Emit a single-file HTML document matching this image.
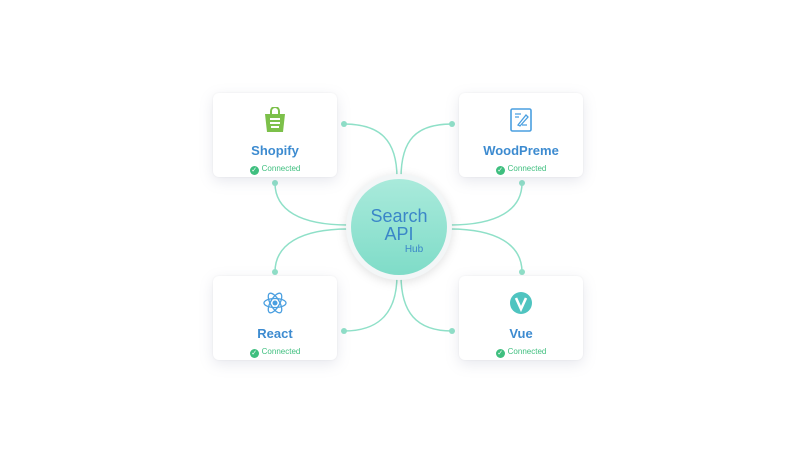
<!DOCTYPE html>
<html><head><meta charset="utf-8"><style>
html,body{margin:0;padding:0;background:#fff;}
body{width:800px;height:457px;position:relative;overflow:hidden;font-family:"Liberation Sans",sans-serif;}
.card{position:absolute;width:124px;height:84px;background:#fff;border-radius:6px;box-shadow:0 4px 14px rgba(120,130,160,0.18),0 0 2px rgba(0,0,0,0.06);}
.card .t{position:absolute;left:0;right:0;top:50px;text-align:center;color:#3d8bd0;font-size:13px;font-weight:bold;}
.card .c{position:absolute;left:0;right:0;top:71px;text-align:center;color:#3fbf7f;font-size:8px;}
.card .c span{display:inline-block;width:9px;height:9px;border-radius:50%;background:#3fbf7f;color:#fff;font-size:7px;line-height:9px;vertical-align:-1px;margin-right:3px;}
.ic{position:absolute;left:50px;top:14px;width:24px;height:26px;}
</style></head><body>
<svg width="800" height="457" style="position:absolute;left:0;top:0">
<g fill="none" stroke="#8fe0c8" stroke-width="1.5">
<path d="M344,124 C380,124 397,140 397,178"/>
<path d="M452,124 C416,124 401,140 401,178"/>
<path d="M275,183 C275,210 300,225 348,225"/>
<path d="M522,183 C522,210 497,225 450,225"/>
<path d="M348,229 C300,229 275,245 275,272"/>
<path d="M450,229 C497,229 522,245 522,272"/>
<path d="M397,275 C397,312 380,331 344,331"/>
<path d="M401,275 C401,312 416,331 452,331"/>
</g>
<g fill="#8fe0c8">
<circle cx="344" cy="124" r="3"/><circle cx="452" cy="124" r="3"/>
<circle cx="275" cy="183" r="3"/><circle cx="522" cy="183" r="3"/>
<circle cx="275" cy="272" r="3"/><circle cx="522" cy="272" r="3"/>
<circle cx="344" cy="331" r="3"/><circle cx="452" cy="331" r="3"/>
</g>
<defs><linearGradient id="g" x1="0" y1="0" x2="0" y2="1"><stop offset="0" stop-color="#a9eadb"/><stop offset="1" stop-color="#7fdcc8"/></linearGradient></defs>
<circle cx="399" cy="227" r="53" fill="#f3f6f7" style="filter:drop-shadow(0 2px 5px rgba(0,0,0,0.12))"/>
<circle cx="399" cy="227" r="48" fill="url(#g)"/>
<text x="399" y="222" text-anchor="middle" font-family="Liberation Sans" font-size="18" fill="#3a86c8">Search</text>
<text x="399" y="240" text-anchor="middle" font-family="Liberation Sans" font-size="18" fill="#3a86c8">API</text>
<text x="414" y="252" text-anchor="middle" font-family="Liberation Sans" font-size="10" fill="#3a86c8">Hub</text>
</svg>

<div class="card" style="left:213px;top:93px">
<svg class="ic" viewBox="0 0 24 26"><path d="M8,7 V4 a4,4 0 0 1 8,0 V7" stroke="#7cc04a" stroke-width="2" fill="none"/><path d="M2,7 H22 L20,25 H4 Z" fill="#7cc04a"/><rect x="7" y="11" width="10" height="2" fill="#fff"/><rect x="7" y="15" width="10" height="2" fill="#fff"/><rect x="8" y="19" width="8" height="2" fill="#fff"/></svg>
<div class="t">Shopify</div><div class="c"><span>✓</span>Connected</div></div>

<div class="card" style="left:459px;top:93px">
<svg class="ic" viewBox="0 0 24 26"><rect x="2" y="2" width="20" height="22" rx="1.5" fill="none" stroke="#4a9fe0" stroke-width="1.6"/><path d="M6,7 H12 M6,10 H10 M13,18 H18" stroke="#4a9fe0" stroke-width="1.2"/><path d="M9,18 L17,8 L19,10 L11,19 Z" fill="none" stroke="#4a9fe0" stroke-width="1.3"/></svg>
<div class="t">WoodPreme</div><div class="c"><span>✓</span>Connected</div></div>

<div class="card" style="left:213px;top:276px">
<svg class="ic" viewBox="0 0 24 26"><g fill="none" stroke="#4a9fe0" stroke-width="1.3"><ellipse cx="12" cy="13" rx="11" ry="4.5"/><ellipse cx="12" cy="13" rx="11" ry="4.5" transform="rotate(60 12 13)"/><ellipse cx="12" cy="13" rx="11" ry="4.5" transform="rotate(-60 12 13)"/></g><circle cx="12" cy="13" r="2.5" fill="#4a9fe0"/></svg>
<div class="t">React</div><div class="c"><span>✓</span>Connected</div></div>

<div class="card" style="left:459px;top:276px">
<svg class="ic" viewBox="0 0 24 26"><circle cx="12" cy="13" r="11" fill="#4fc4c0"/><path d="M7,8 L12,19 L17,8" stroke="#fff" stroke-width="2.6" fill="none"/></svg>
<div class="t">Vue</div><div class="c"><span>✓</span>Connected</div></div>
</body></html>
